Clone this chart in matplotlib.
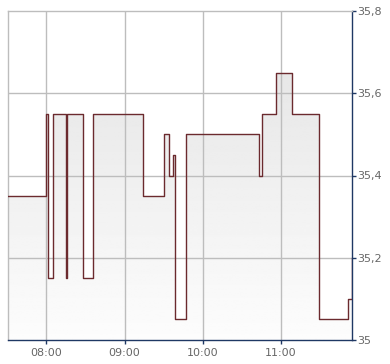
import numpy as np
import matplotlib
matplotlib.use('Agg')
import matplotlib.pyplot as plt
from matplotlib.patches import Polygon

# step points (time hh:mm, price) - value holds until next time
times = ['07:31', '08:00', '08:01', '08:05', '08:15', '08:16', '08:28', '08:36',
         '09:14', '09:30', '09:34', '09:37', '09:39', '09:47', '10:43', '10:45',
         '10:56', '11:08', '11:29', '11:51', '11:54']
prices = [35.35, 35.55, 35.15, 35.55, 35.15, 35.55, 35.15, 35.55,
          35.35, 35.50, 35.40, 35.45, 35.05, 35.50, 35.40, 35.55,
          35.65, 35.55, 35.05, 35.10, 35.20]
x_start, x_end = '07:30.7', '11:54.3'
y_ticks = [35.0, 35.2, 35.4, 35.6, 35.8]
x_ticks = ['08:00', '09:00', '10:00', '11:00']


def to_min(s):
    h, m = s.split(':')
    return int(h) * 60 + float(m)


tx = [to_min(t) for t in times]
x0, x1 = to_min(x_start), to_min(x_end)

# build step path
xs, ys = [], []
for i, (t, p) in enumerate(zip(tx, prices)):
    xs.append(t if i > 0 else x0)
    ys.append(p)
    nxt = tx[i + 1] if i + 1 < len(tx) else x1
    xs.append(nxt)
    ys.append(p)

fig = plt.figure(figsize=(3.9, 3.64), dpi=100)
ax = fig.add_axes([8 / 390, 24 / 364, 344 / 390, 329 / 364])
ax.set_xlim(x0, x1)
ax.set_ylim(35.0, 35.8)

# gradient fill under the line
grad = np.linspace(0.885, 0.99, 256).reshape(-1, 1)
img = ax.imshow(grad, cmap='gray', vmin=0, vmax=1, aspect='auto',
                extent=[x0, x1, 35.0, 35.8], origin='upper', zorder=1)
poly = Polygon(list(zip([x0] + xs + [x1], [35.0] + ys + [35.0])), closed=True,
               facecolor='none', edgecolor='none')
ax.add_patch(poly)
img.set_clip_path(poly)

ax.plot(xs, ys, color='#6b2a2e', lw=1.0, zorder=3)

for t in x_ticks:
    ax.axvline(to_min(t), color='#bdbdbd', lw=1.0, zorder=2)
for v in y_ticks[1:-1]:
    ax.axhline(v, color='#bdbdbd', lw=1.0, zorder=2)

ax.spines['top'].set_color('#bdbdbd')
ax.spines['left'].set_color('#bdbdbd')
ax.spines['right'].set_color('#1f3864')
ax.spines['bottom'].set_color('#1f3864')
for s in ax.spines.values():
    s.set_linewidth(1.0)

ax.yaxis.tick_right()
ax.set_yticks(y_ticks)
ax.set_yticklabels([('%g' % v).replace('.', ',') for v in y_ticks])
ax.set_xticks([to_min(t) for t in x_ticks])
ax.set_xticklabels(x_ticks)
ax.tick_params(axis='both', colors='#1f3864', labelcolor='#666666',
               labelsize=8, length=3, width=1, pad=1)
ax.tick_params(axis='x', pad=3)

fig.savefig('out.png', dpi=100)
